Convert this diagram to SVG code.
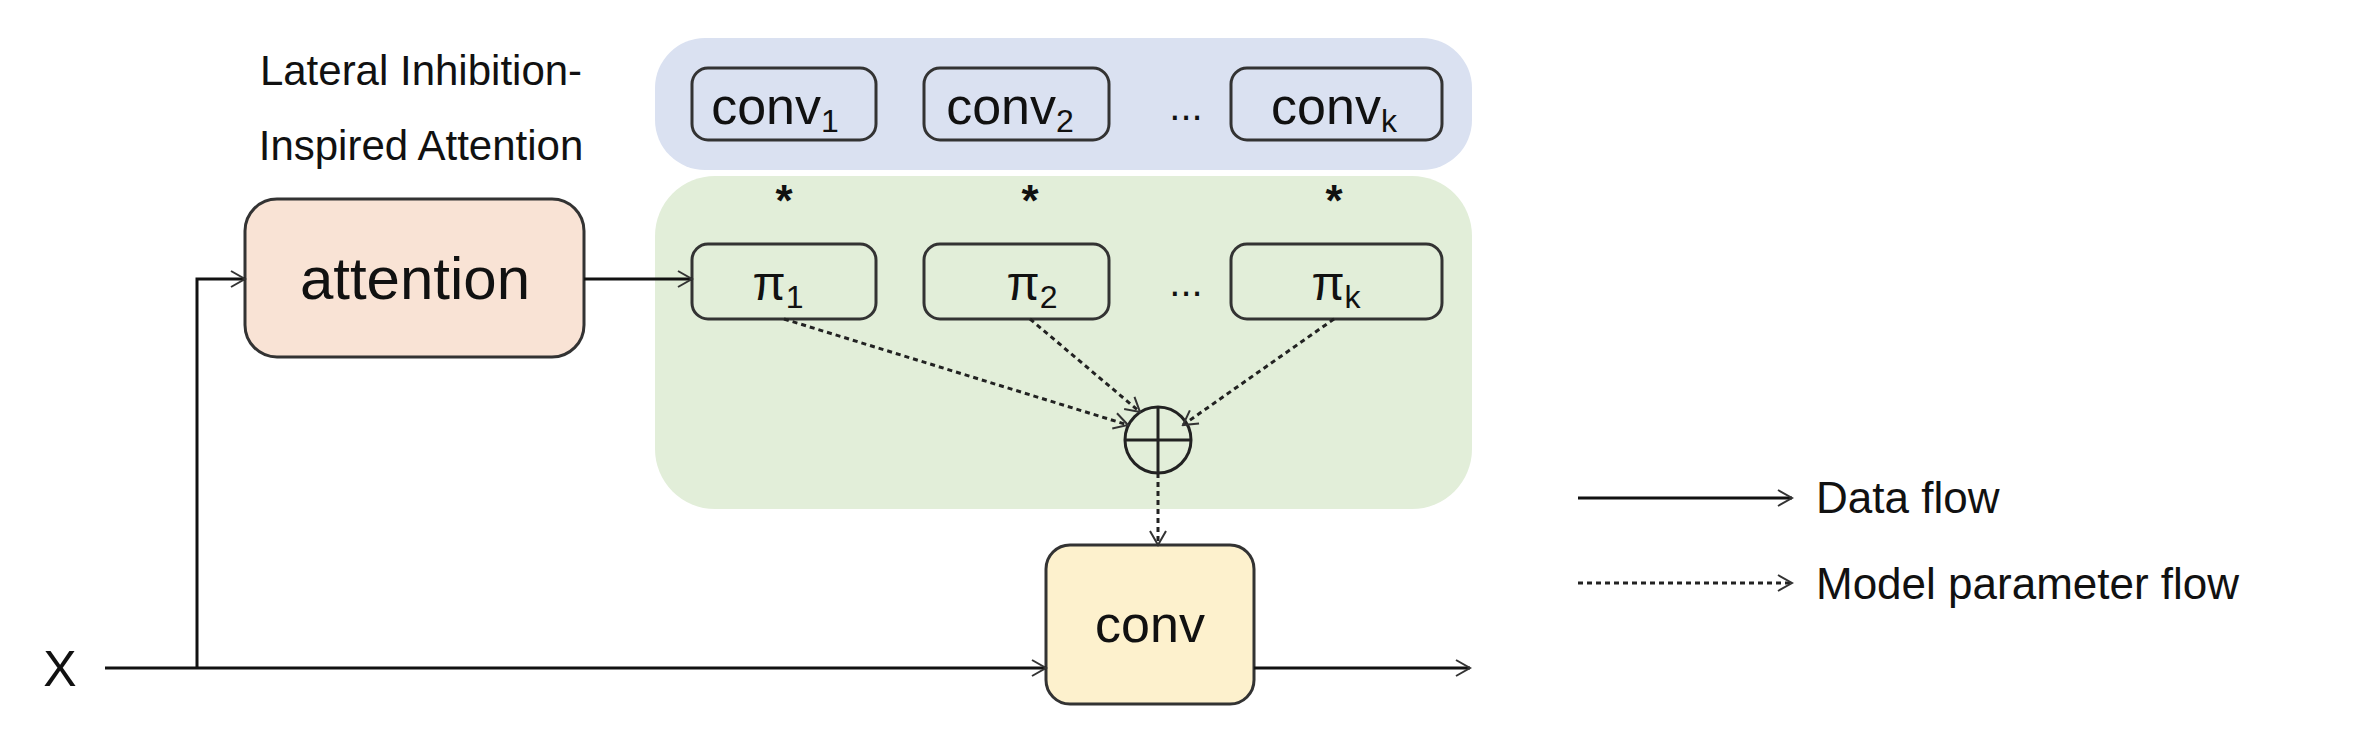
<svg xmlns="http://www.w3.org/2000/svg" width="2360" height="735" viewBox="0 0 2360 735">
<style>
text{font-family:"Liberation Sans",Arial,sans-serif;fill:#111}
.box{stroke:#333;stroke-width:3}
.sol{stroke:#111;stroke-width:3;fill:none}
.dash{stroke:#222;stroke-width:3;fill:none;stroke-dasharray:5 4}
</style>
<defs>
<marker id="a" viewBox="0 0 20 20" refX="18" refY="10" markerWidth="20" markerHeight="20" markerUnits="userSpaceOnUse" orient="auto"><path d="M4 2 L18 10 L4 18" fill="none" stroke="#333" stroke-width="2"/></marker>
</defs>
<rect width="2360" height="735" fill="#fff"/>
<g id="panels">
<rect x="655" y="38" width="817" height="132" rx="50" fill="#dae1f1"/>
<rect x="655" y="176" width="817" height="333" rx="60" fill="#e2eed9"/>
</g>
<g id="label"><text x="421" y="85" font-size="42" text-anchor="middle">Lateral Inhibition-</text><text x="421" y="160" font-size="42" text-anchor="middle">Inspired Attention</text></g>
<g id="convs">
<rect class="box" x="692" y="68" width="184" height="72" rx="16" fill="#dae1f1"/>
<text x="775" y="124" font-size="52" text-anchor="middle">conv<tspan font-size="32" dy="8">1</tspan></text>
<rect class="box" x="924" y="68" width="185" height="72" rx="16" fill="#dae1f1"/>
<text x="1010" y="124" font-size="52" text-anchor="middle">conv<tspan font-size="32" dy="8">2</tspan></text>
<text x="1186" y="120" font-size="40" text-anchor="middle">...</text>
<rect class="box" x="1231" y="68" width="211" height="72" rx="16" fill="#dae1f1"/>
<text x="1334" y="124" font-size="52" text-anchor="middle">conv<tspan font-size="32" dy="8">k</tspan></text>
</g>
<g id="stars" font-size="44" font-weight="bold" text-anchor="middle"><text x="784" y="216">*</text><text x="1030" y="216">*</text><text x="1334" y="216">*</text></g>
<g id="pis">
<rect class="box" x="692" y="244" width="184" height="75" rx="16" fill="#e2eed9"/>
<text x="778" y="300" font-size="48" text-anchor="middle">π<tspan font-size="32" dy="8">1</tspan></text>
<rect class="box" x="924" y="244" width="185" height="75" rx="16" fill="#e2eed9"/>
<text x="1032" y="300" font-size="48" text-anchor="middle">π<tspan font-size="32" dy="8">2</tspan></text>
<text x="1186" y="296" font-size="40" text-anchor="middle">...</text>
<rect class="box" x="1231" y="244" width="211" height="75" rx="16" fill="#e2eed9"/>
<text x="1336" y="300" font-size="48" text-anchor="middle">π<tspan font-size="32" dy="8">k</tspan></text>
</g>
<g id="attention"><rect class="box" x="245" y="199" width="339" height="158" rx="32" fill="#f9e3d5"/><text x="415" y="299" font-size="60" text-anchor="middle">attention</text></g>
<g id="conv"><rect class="box" x="1046" y="545" width="208" height="159" rx="24" fill="#fdf1cd"/><text x="1150" y="642" font-size="52" text-anchor="middle">conv</text></g>
<g id="plus"><circle cx="1158" cy="440" r="33" fill="none" stroke="#222" stroke-width="3"/><path d="M1125 440 H1191 M1158 407 V473" stroke="#222" stroke-width="3"/></g>
<text x="60" y="686" font-size="50" text-anchor="middle">X</text>
<g id="connectors">
<path class="sol" d="M105 668 H1046" marker-end="url(#a)"/>
<path class="sol" d="M1254 668 H1470" marker-end="url(#a)"/>
<path class="sol" d="M197 668 V279 H245" marker-end="url(#a)"/>
<path class="sol" d="M584 279 H692" marker-end="url(#a)"/>
<path class="dash" d="M784 319 L1128 425" marker-end="url(#a)"/>
<path class="dash" d="M1030 319 L1140 412" marker-end="url(#a)"/>
<path class="dash" d="M1334 319 L1183 425" marker-end="url(#a)"/>
<path class="dash" d="M1158 473 V545" marker-end="url(#a)"/>
</g>
<g id="legend">
<path class="sol" d="M1578 498 H1792" marker-end="url(#a)"/>
<text x="1816" y="513" font-size="44">Data flow</text>
<path class="dash" d="M1578 583 H1792" marker-end="url(#a)"/>
<text x="1816" y="599" font-size="44">Model parameter flow</text>
</g>
</svg>
